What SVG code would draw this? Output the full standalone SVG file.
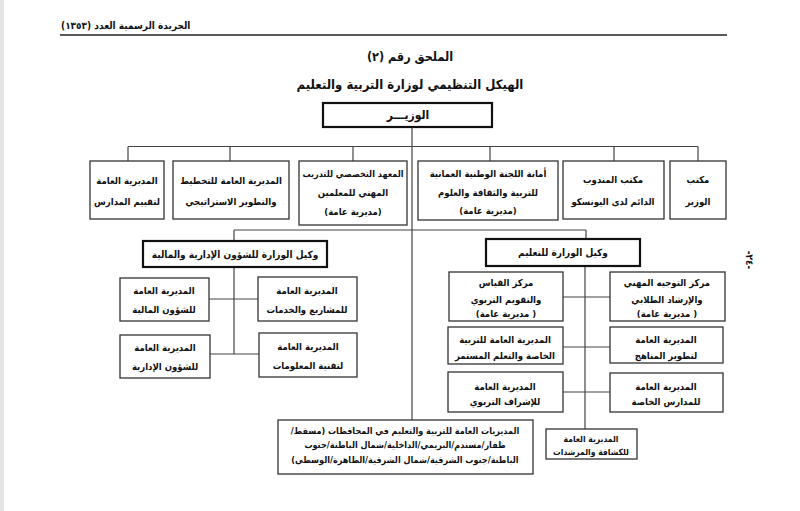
<svg xmlns="http://www.w3.org/2000/svg" width="800" height="511" viewBox="0 0 800 511">
<style>
text{font-family:"DejaVu Sans Condensed","DejaVu Sans","Noto Sans",sans-serif;font-stretch:condensed;fill:#111;direction:rtl;unicode-bidi:embed;text-anchor:middle}
.b{fill:#fff;stroke:#333;stroke-width:1.3}
.k{fill:#fff;stroke:#111;stroke-width:2.2}
.t{font-size:9.5px;font-weight:bold}
.g{font-size:9px;font-weight:bold}
.d{font-size:10px;font-weight:bold}
.s{font-size:8.5px;font-weight:bold}
.c{fill:none;stroke:#444;stroke-width:1.2}
</style>
<rect width="800" height="511" fill="#fff"/>
<rect x="0" y="0" width="4" height="511" fill="#e4e4e4"/>
<g id="header">
<text x="61" y="29" style="font-size:10px;font-weight:bold;text-anchor:end">الجريدة الرسمية العدد (١٣٥٣)</text>
<line x1="60" y1="35" x2="727" y2="35" stroke="#222" stroke-width="1.3"/>
<text x="410" y="61" style="font-size:12.5px;font-weight:bold">الملحق رقم (٢)</text>
<text x="410" y="89" style="font-size:13px;font-weight:bold">الهيكل التنظيمي لوزارة التربية والتعليم</text>
</g>
<g id="connectors">
<path class="c" d="M412 127V420M128 146.5H698M128 146.5V161M230 146.5V161M353 146.5V161M490 146.5V161M614 146.5V161M698 146.5V161"/>
<path class="c" d="M234 230H586M234 230V241M586 230V239"/>
<path class="c" d="M234 267V354M209 299H258M210 354H259"/>
<path class="c" d="M585 266V429M563 297H610M563 347H610M563 392H610"/>
</g>
<g id="minister"><rect class="k" x="323" y="103" width="169" height="24"/><text x="408" y="119" style="font-size:12px;font-weight:bold">الوزيـــر</text></g>
<g id="n1"><rect class="b" x="90" y="161" width="74" height="58"/><text class="t" x="127" y="184">المديرية العامة</text><text class="t" x="127" y="205">لتقييم المدارس</text></g>
<g id="n2"><rect class="b" x="173" y="161" width="116" height="58"/><text class="t" x="231" y="184">المديرية العامة للتخطيط</text><text class="t" x="231" y="205">والتطوير الاستراتيجي</text></g>
<g id="n3"><rect class="b" x="299" y="161" width="108" height="64"/><text class="g" x="353" y="177">المعهد التخصصي للتدريب</text><text class="t" x="353" y="196">المهني للمعلمين</text><text class="t" x="353" y="215">(مديرية عامة)</text></g>
<g id="n4"><rect class="b" x="418" y="161" width="140" height="59"/><text class="t" x="488" y="177">أمانة اللجنة الوطنية العمانية</text><text class="t" x="488" y="196">للتربية والثقافة والعلوم</text><text class="t" x="488" y="214">(مديرية عامة)</text></g>
<g id="n5"><rect class="b" x="563" y="161" width="101" height="58"/><text class="t" x="613" y="183">مكتب المندوب</text><text class="t" x="613" y="205">الدائم لدى اليونسكو</text></g>
<g id="n6"><rect class="b" x="670" y="161" width="56" height="58"/><text class="t" x="698" y="183">مكتب</text><text class="t" x="698" y="205">الوزير</text></g>
<g id="dep-admin"><rect class="k" x="143" y="241" width="184" height="26"/><text class="d" x="235" y="258">وكيل الوزارة للشؤون الإدارية والمالية</text></g>
<g id="a1"><rect class="b" x="258" y="277" width="99" height="44"/><text class="t" x="307" y="294">المديرية العامة</text><text class="t" x="307" y="313">للمشاريع والخدمات</text></g>
<g id="a2"><rect class="b" x="259" y="333" width="98" height="44"/><text class="t" x="308" y="350">المديرية العامة</text><text class="t" x="308" y="369">لتقنية المعلومات</text></g>
<g id="a3"><rect class="b" x="120" y="278" width="89" height="43"/><text class="t" x="164" y="294">المديرية العامة</text><text class="t" x="164" y="313">للشؤون المالية</text></g>
<g id="a4"><rect class="b" x="120" y="335" width="90" height="43"/><text class="t" x="165" y="351">المديرية العامة</text><text class="t" x="165" y="370">للشؤون الإدارية</text></g>
<g id="dep-edu"><rect class="k" x="486" y="239" width="154" height="27"/><text class="d" x="563" y="256">وكيل الوزارة للتعليم</text></g>
<g id="e1"><rect class="b" x="449" y="272" width="114" height="49"/><text class="t" x="506" y="286">مركز القياس</text><text class="t" x="506" y="303">والتقويم التربوي</text><text class="t" x="506" y="317">( مديرية عامة)</text></g>
<g id="e2"><rect class="b" x="610" y="272" width="115" height="49"/><text class="t" x="667" y="286">مركز التوجيه المهني</text><text class="t" x="667" y="303">والإرشاد الطلابي</text><text class="t" x="667" y="317">( مديرية عامة)</text></g>
<g id="e3"><rect class="b" x="448" y="327" width="115" height="37"/><text class="t" x="505" y="343">المديرية العامة للتربية</text><text class="t" x="505" y="359">الخاصة والتعلم المستمر</text></g>
<g id="e4"><rect class="b" x="610" y="327" width="113" height="36"/><text class="t" x="666" y="343">المديرية العامة</text><text class="t" x="666" y="359">لتطوير المناهج</text></g>
<g id="e5"><rect class="b" x="448" y="372" width="115" height="40"/><text class="t" x="505" y="390">المديرية العامة</text><text class="t" x="505" y="405">للإشراف التربوي</text></g>
<g id="e6"><rect class="b" x="610" y="373" width="113" height="39"/><text class="t" x="666" y="390">المديرية العامة</text><text class="t" x="666" y="405">للمدارس الخاصة</text></g>
<g id="e7"><rect class="b" x="546" y="429" width="91" height="30"/><text class="s" x="591" y="442">المديرية العامة</text><text class="s" x="591" y="455">للكشافة والمرشدات</text></g>
<g id="gov"><rect class="b" x="278" y="420" width="255" height="54"/><text class="g" x="405" y="434">المديريات العامة للتربية والتعليم في المحافظات (مسقط/</text><text class="g" x="405" y="448">ظفار/مسندم/البريمي/الداخلية/شمال الباطنة/جنوب</text><text class="g" x="405" y="463">الباطنة/جنوب الشرقية/شمال الشرقية/الظاهرة/الوسطى)</text></g>
<g id="page"><text x="0" y="0" transform="translate(746,260) rotate(90)" style="font-size:10px;font-weight:bold">-٢٤-</text></g>
</svg>
